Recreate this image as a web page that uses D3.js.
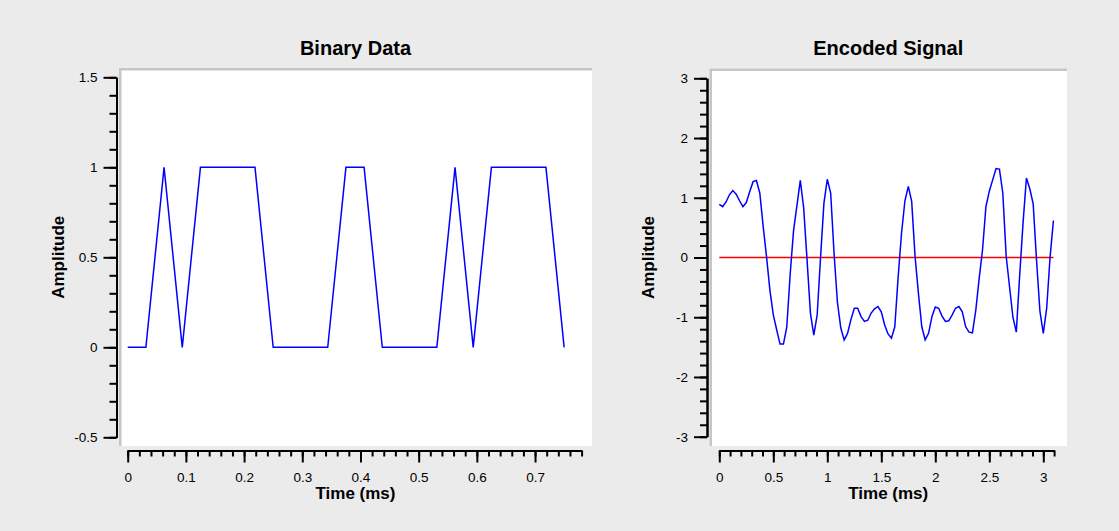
<!DOCTYPE html>
<html>
<head>
<meta charset="utf-8">
<script src="https://cdn.jsdelivr.net/npm/d3@7"></script>
<style>
body{margin:0;background:#ebebeb;}
svg{display:block;font-family:Helvetica,Arial,"Liberation Sans",sans-serif;}
.axis .domain, .axis line{stroke:#000;stroke-width:2;}
.axis text{font-size:13.5px;fill:#000;}
.ttl{font-weight:bold;fill:#000;text-anchor:middle;}
</style>
</head>
<body>
<svg id="chart" width="1119" height="531"></svg>
<script>
/* binary data, one sample every 1/32 ms */
var bitTimes = [0,0.03125,0.0625,0.09375,0.125,0.15625,0.1875,0.21875,0.25,0.28125,
    0.3125,0.34375,0.375,0.40625,0.4375,0.46875,0.5,0.53125,0.5625,0.59375,
    0.625,0.65625,0.6875,0.71875,0.75];
var bitValues = [0,0,1,0,1,1,1,1,0,0,0,0,1,1,0,0,0,0,1,0,1,1,1,1,0];

/* encoded signal, same sample rate */
var SIGNAL_STEP = 0.03125;
var signalValues = [
    0.89,0.85,0.93,1.05,1.12,1.06,0.95,0.85,0.92,1.10,
    1.27,1.29,1.08,0.52,0.01,-0.55,-0.96,-1.21,-1.45,-1.45,
    -1.16,-0.28,0.45,0.87,1.29,0.83,-0.04,-0.93,-1.30,-0.96,
    0.00,0.91,1.31,1.08,0.07,-0.75,-1.18,-1.38,-1.27,-1.04,
    -0.85,-0.85,-0.99,-1.07,-1.05,-0.93,-0.86,-0.82,-0.91,-1.13,
    -1.28,-1.35,-1.16,-0.32,0.41,0.95,1.19,0.94,0.02,-0.60,
    -1.16,-1.38,-1.27,-0.99,-0.83,-0.85,-0.98,-1.07,-1.06,-0.96,
    -0.85,-0.82,-0.91,-1.16,-1.25,-1.26,-0.88,-0.35,0.13,0.85,
    1.11,1.30,1.49,1.48,1.08,0.02,-0.49,-1.00,-1.25,-0.30,
    0.58,1.33,1.15,0.90,-0.05,-0.90,-1.27,-0.85,0.00,0.62];
var zeroLineTimes = [0, 3.09375];

var leftXTicks = [0,0.1,0.2,0.3,0.4,0.5,0.6,0.7];
var leftYTicks = [-0.5,0,0.5,1,1.5];
var rightXTicks = [0,0.5,1,1.5,2,2.5,3];
var rightYTicks = [-3,-2,-1,0,1,2,3];

var svg = d3.select("#chart");

var signalData = signalValues.map(function(v,i){ return {t:i*SIGNAL_STEP, v:v}; });
var bitData = bitValues.map(function(v,i){ return {t:bitTimes[i], v:v}; });

/* one plot panel: white frame, axes, titles */
function drawPanel(p){
    var g = svg.append("g");
    var f = p.frame;
    g.append("rect")
	.attr("x",f[0]).attr("y",f[1])
	.attr("width",f[2]-f[0]).attr("height",f[3]-f[1])
	.attr("fill","#fff");
    g.append("path")
	.attr("d","M"+(f[0]+1.25)+","+f[3]+"V"+(f[1]+1.25)+"H"+f[2])
	.attr("fill","none").attr("stroke","#c6c6c6").attr("stroke-width",2.5);

    var x = d3.scaleLinear().domain(p.xDomain).range(p.xRange);
    var y = d3.scaleLinear().domain(p.yDomain).range(p.yRange);
    var fmt = function(d){ return String(d); };

    g.append("g").attr("class","axis")
	.attr("transform","translate("+p.yAxisX+",0)")
	.call(d3.axisLeft(y).tickValues(p.yMinor).tickSize(7).tickSizeOuter(0).tickFormat(""));
    g.append("g").attr("class","axis")
	.attr("transform","translate("+p.yAxisX+",0)")
	.call(d3.axisLeft(y).tickValues(p.yTicks).tickSize(13).tickSizeOuter(0).tickPadding(6).tickFormat(fmt));

    g.append("g").attr("class","axis")
	.attr("transform","translate(0,"+p.xAxisY+")")
	.call(d3.axisBottom(x).tickValues(p.xMinor).tickSize(6).tickSizeOuter(0).tickFormat(""));
    g.append("g").attr("class","axis")
	.attr("transform","translate(0,"+p.xAxisY+")")
	.call(d3.axisBottom(x).tickValues(p.xTicks).tickSize(12).tickSizeOuter(0).tickPadding(10).tickFormat(fmt));

    var cx = (f[0]+f[2])/2;
    g.append("text").attr("class","ttl").attr("x",cx).attr("y",55)
	.style("font-size","20px").text(p.title);
    g.append("text").attr("class","ttl").attr("x",cx).attr("y",499)
	.style("font-size","17px").text("Time (ms)");
    g.append("text").attr("class","ttl")
	.attr("transform","translate("+p.yLabelX+","+((p.yRange[0]+p.yRange[1])/2)+") rotate(-90)")
	.style("font-size","17px").text("Amplitude");

    return {g:g, x:x, y:y};
}

var left = drawPanel({
    frame:[119,68,592,446],
    xDomain:[0,0.78], xRange:[127.7,581.6],
    yDomain:[-0.5,1.5], yRange:[437.3,77.3],
    yAxisX:116.5, xAxisY:450.5, yLabelX:64,
    xTicks:leftXTicks, yTicks:leftYTicks,
    xMinor:d3.range(0,0.7801,0.02), yMinor:d3.range(-0.5,1.5001,0.1),
    title:"Binary Data"
});

var right = drawPanel({
    frame:[709.5,68.5,1067,446],
    xDomain:[0,3.1], xRange:[719.3,1054.1],
    yDomain:[-3,3], yRange:[436.7,78.3],
    yAxisX:707, xAxisY:450.5, yLabelX:654,
    xTicks:rightXTicks, yTicks:rightYTicks,
    xMinor:d3.range(0,3.1001,0.1), yMinor:d3.range(-3,3.001,0.2),
    title:"Encoded Signal"
});

var lineL = d3.line().x(function(d){return left.x(d.t);}).y(function(d){return left.y(d.v);});
left.g.append("path").datum(bitData)
    .attr("d",lineL).attr("fill","none").attr("stroke","#0000ff").attr("stroke-width",1.5);

var lineR = d3.line().x(function(d){return right.x(d.t);}).y(function(d){return right.y(d.v);});
right.g.append("path").datum(zeroLineTimes.map(function(t){return {t:t,v:0};}))
    .attr("d",lineR).attr("fill","none").attr("stroke","#ff0000").attr("stroke-width",1.5);
right.g.append("path").datum(signalData)
    .attr("d",lineR).attr("fill","none").attr("stroke","#0000ff").attr("stroke-width",1.5);
</script>
</body>
</html>
